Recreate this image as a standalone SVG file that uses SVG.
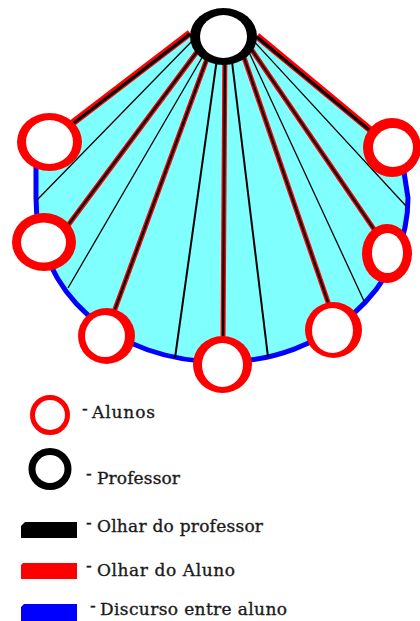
<svg xmlns="http://www.w3.org/2000/svg" width="420" height="621" viewBox="0 0 420 621">
<style>
.thin{stroke:#000;stroke-width:1.3;fill:none}
.thick{stroke:#000;stroke-width:2;fill:none}
.rg{stroke:#ff0000;stroke-width:5;fill:none}
.bg{stroke:#000;stroke-width:2.2;fill:none}
.rgt{stroke:#ff0000;stroke-width:7;fill:none}
.bgt{stroke:#000;stroke-width:3;fill:none}
.ring{fill:#ff0000}
.hole{fill:#fff}
.prof{fill:#000}
.lbl{font-family:"DejaVu Serif",serif;font-size:17px;fill:#1a1a1a;stroke:#1a1a1a;stroke-width:0.35}
</style>
<rect width="420" height="621" fill="#fff"/>
<g id="area">
<path d="M190 33 L66 128 L36 160 L36 198 C36 293.1 114.1 362 222 362 C324.3 362 408 288.2 408 198 L404 172 L368 127 L257 36 Z" fill="#80ffff"/>
<path d="M36 166 L36 198 C36 293.1 114.1 362 222 362 C324.3 362 408 288.2 408 198 L404 172" fill="none" stroke="#0000ff" stroke-width="5"/>
</g>
<g id="connectors">
<line class="thin" x1="196" y1="37" x2="37" y2="200"/>
<line class="thin" x1="214" y1="37" x2="68" y2="288"/>
<line class="thick" x1="220" y1="37" x2="175" y2="358"/>
<line class="thick" x1="229" y1="37" x2="268" y2="357"/>
<line class="thin" x1="242" y1="37" x2="364" y2="301"/>
<line class="thin" x1="250" y1="37" x2="406" y2="206"/>
<line class="rgt" x1="190" y1="33" x2="59.6" y2="132.9"/>
<line class="rgt" x1="257" y1="36" x2="381" y2="138.6"/>
<line class="rg" x1="208" y1="37" x2="61.2" y2="234.4"/>
<line class="rg" x1="215" y1="37" x2="111.2" y2="319.5"/>
<line class="rg" x1="225" y1="37" x2="223" y2="345"/>
<line class="rg" x1="237" y1="37" x2="331.6" y2="312.6"/>
<line class="rg" x1="243" y1="37" x2="384.5" y2="244.6"/>
<line class="bgt" x1="190" y1="34" x2="59.6" y2="133.9"/>
<line class="bgt" x1="257" y1="37" x2="381" y2="139.6"/>
<line class="bg" x1="208" y1="37" x2="61.2" y2="234.4"/>
<line class="bg" x1="215" y1="37" x2="111.2" y2="319.5"/>
<line class="bg" x1="225" y1="37" x2="223" y2="345"/>
<line class="bg" x1="237" y1="37" x2="331.6" y2="312.6"/>
<line class="bg" x1="243" y1="37" x2="384.5" y2="244.6"/>
</g>
<g id="aluno1"><ellipse class="ring" cx="49.5" cy="142" rx="32.5" ry="29"/><ellipse class="hole" cx="49.5" cy="142" rx="23.5" ry="22"/></g>
<g id="aluno2"><ellipse class="ring" cx="392" cy="147.5" rx="29" ry="29.5"/><ellipse class="hole" cx="393" cy="147.5" rx="20" ry="19.5"/></g>
<g id="aluno3"><ellipse class="ring" cx="44" cy="242" rx="32" ry="29"/><ellipse class="hole" cx="43.5" cy="242.5" rx="22.5" ry="20"/></g>
<g id="aluno4"><ellipse class="ring" cx="387" cy="253.5" rx="25" ry="29.5"/><ellipse class="hole" cx="387.5" cy="253" rx="15.5" ry="20"/></g>
<g id="aluno5"><ellipse class="ring" cx="106.5" cy="336" rx="28.5" ry="28"/><ellipse class="hole" cx="105" cy="336" rx="20" ry="21"/></g>
<g id="aluno6"><ellipse class="ring" cx="222.5" cy="364.5" rx="29.5" ry="28.5"/><ellipse class="hole" cx="222.5" cy="365" rx="20.5" ry="22"/></g>
<g id="aluno7"><ellipse class="ring" cx="333.5" cy="330" rx="28.5" ry="28"/><ellipse class="hole" cx="332.5" cy="330.5" rx="20.5" ry="22.5"/></g>
<g id="professor"><ellipse class="prof" cx="223.5" cy="36.5" rx="33.5" ry="28.5"/><ellipse class="hole" cx="223.5" cy="36.5" rx="23.5" ry="21.5"/></g>
<g id="legend-alunos">
<circle cx="50" cy="415" r="17.5" fill="none" stroke="#ff0000" stroke-width="5"/>
<text class="lbl"><tspan x="82" y="414">-</tspan><tspan x="92" y="418" textLength="63">Alunos</tspan></text>
</g>
<g id="legend-professor">
<ellipse cx="50" cy="469" rx="18" ry="17.5" fill="none" stroke="#000" stroke-width="7"/>
<text class="lbl"><tspan x="86" y="479">-</tspan><tspan x="97" y="484" textLength="83">Professor</tspan></text>
</g>
<g id="legend-olhar-professor">
<path d="M25 522 L77 522 L77 538 L21 538 L21 526 Z" fill="#000"/>
<text class="lbl"><tspan x="86" y="528">-</tspan><tspan x="97" y="532" textLength="166">Olhar do professor</tspan></text>
</g>
<g id="legend-olhar-aluno">
<path d="M23 563 L77 563 L77 579 L21 579 L21 565 Z" fill="#ff0000"/>
<text class="lbl"><tspan x="86" y="571">-</tspan><tspan x="97" y="576" textLength="138">Olhar do Aluno</tspan></text>
</g>
<g id="legend-discurso">
<path d="M24 604 L77 604 L77 621 L21 621 L21 607 Z" fill="#0000ff"/>
<text class="lbl"><tspan x="90" y="611">-</tspan><tspan x="100" y="615" textLength="187">Discurso entre aluno</tspan></text>
</g>
</svg>
